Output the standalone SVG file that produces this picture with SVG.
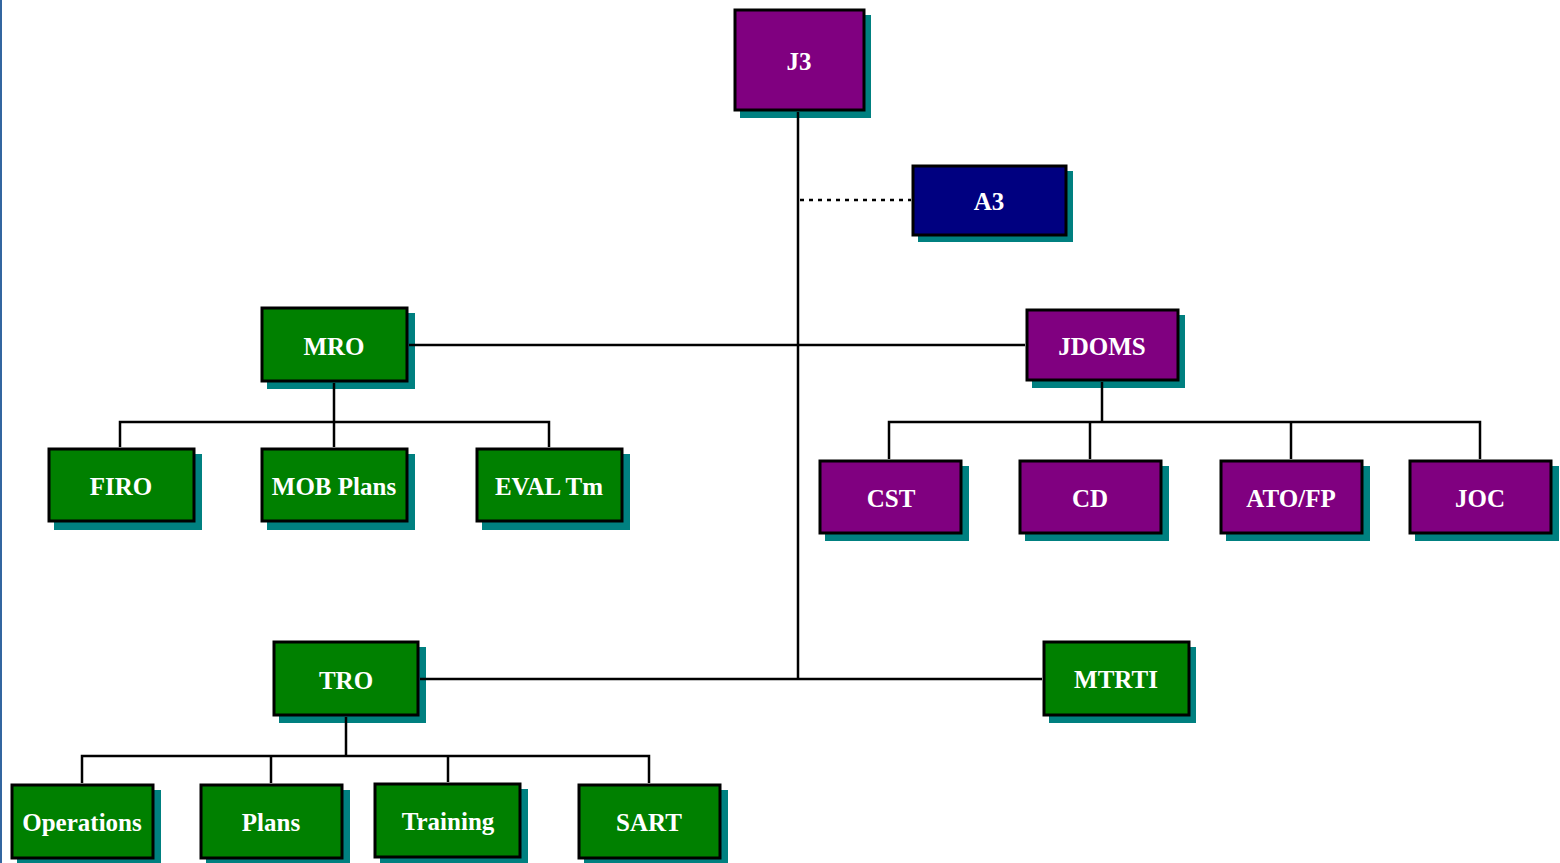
<svg xmlns="http://www.w3.org/2000/svg" width="1560" height="863" viewBox="0 0 1560 863">
<style>
.sh{fill:#008080}
.bx{stroke:#000;stroke-width:3}
.p{fill:#800080}.g{fill:#008000}.n{fill:#000080}
text{font-family:"Liberation Serif","Times New Roman",serif;font-weight:bold;font-size:25px;fill:#fff;text-anchor:middle;dominant-baseline:central}
.ln{stroke:#000;stroke-width:2.5;fill:none}
</style>
<rect width="1560" height="863" fill="#fff"/>
<rect x="0" y="0" width="2" height="863" fill="#3366a0"/>
<g id="J3"><rect class="sh" x="740" y="15" width="131" height="103"/><rect class="bx p" x="735" y="10" width="129" height="100"/><text x="799" y="61">J3</text></g>
<g id="A3"><rect class="sh" x="918" y="171" width="155" height="71"/><rect class="bx n" x="913" y="166" width="153" height="69"/><text x="989" y="201">A3</text></g>
<g id="MRO"><rect class="sh" x="267" y="313" width="148" height="76"/><rect class="bx g" x="262" y="308" width="145" height="73"/><text x="334" y="346">MRO</text></g>
<g id="JDOMS"><rect class="sh" x="1032" y="315" width="153" height="73"/><rect class="bx p" x="1027" y="310" width="151" height="70"/><text x="1102" y="346">JDOMS</text></g>
<g id="FIRO"><rect class="sh" x="54" y="454" width="148" height="76"/><rect class="bx g" x="49" y="449" width="145" height="72"/><text x="121" y="486">FIRO</text></g>
<g id="MOB"><rect class="sh" x="267" y="454" width="148" height="76"/><rect class="bx g" x="262" y="449" width="145" height="72"/><text x="334" y="486">MOB Plans</text></g>
<g id="EVAL"><rect class="sh" x="482" y="454" width="148" height="76"/><rect class="bx g" x="477" y="449" width="145" height="72"/><text x="549" y="486">EVAL Tm</text></g>
<g id="CST"><rect class="sh" x="825" y="466" width="144" height="75"/><rect class="bx p" x="820" y="461" width="141" height="72"/><text x="891" y="498">CST</text></g>
<g id="CD"><rect class="sh" x="1025" y="466" width="144" height="75"/><rect class="bx p" x="1020" y="461" width="141" height="72"/><text x="1090" y="498">CD</text></g>
<g id="ATOFP"><rect class="sh" x="1226" y="466" width="144" height="75"/><rect class="bx p" x="1221" y="461" width="141" height="72"/><text x="1291" y="498">ATO/FP</text></g>
<g id="JOC"><rect class="sh" x="1415" y="466" width="144" height="75"/><rect class="bx p" x="1410" y="461" width="141" height="72"/><text x="1480" y="498">JOC</text></g>
<g id="TRO"><rect class="sh" x="279" y="647" width="147" height="76"/><rect class="bx g" x="274" y="642" width="144" height="73"/><text x="346" y="680">TRO</text></g>
<g id="MTRTI"><rect class="sh" x="1049" y="647" width="147" height="76"/><rect class="bx g" x="1044" y="642" width="145" height="73"/><text x="1116" y="679">MTRTI</text></g>
<g id="Operations"><rect class="sh" x="17" y="790" width="144" height="76"/><rect class="bx g" x="12" y="785" width="141" height="73"/><text x="82" y="822">Operations</text></g>
<g id="Plans"><rect class="sh" x="206" y="790" width="144" height="76"/><rect class="bx g" x="201" y="785" width="141" height="73"/><text x="271" y="822">Plans</text></g>
<g id="Training"><rect class="sh" x="380" y="789" width="148" height="76"/><rect class="bx g" x="375" y="784" width="145" height="73"/><text x="448" y="821">Training</text></g>
<g id="SART"><rect class="sh" x="584" y="790" width="144" height="76"/><rect class="bx g" x="579" y="785" width="141" height="73"/><text x="649" y="822">SART</text></g>
<g id="connectors">
<path class="ln" d="M798 112V679M409 345H1025M420 679H1042"/>
<path class="ln" d="M800 200H911" stroke-dasharray="4 5"/>
<path class="ln" d="M334 383V422M120 447L120 422H549V447M334 422V447"/>
<path class="ln" d="M1102 382V422M889 459V422H1480V459M1090 422V459M1291 422V459"/>
<path class="ln" d="M346 717V756M82 783V756H649V783M271 756V783M448 756V782"/>
</g>
</svg>
